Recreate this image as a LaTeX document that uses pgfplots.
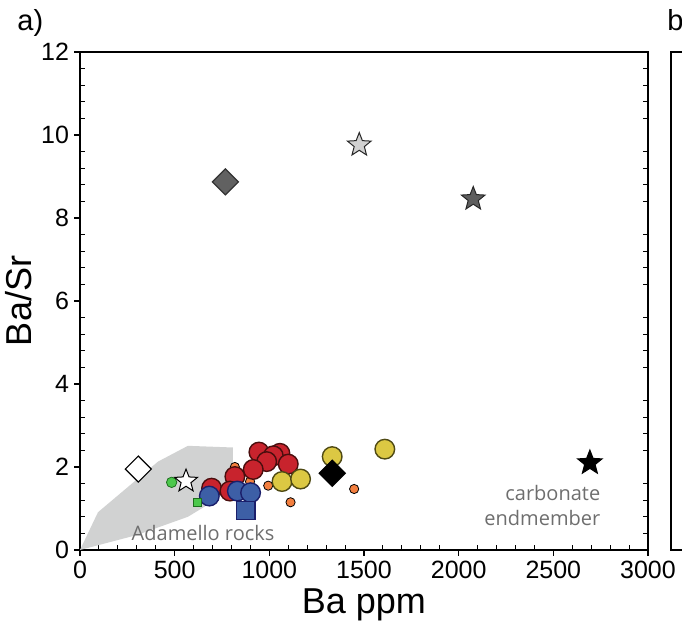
\documentclass[border=0pt]{standalone}
\usepackage{fontspec}
\setmainfont{Liberation Sans}
\newfontfamily\notefont{Open Sans}
\usepackage{pgfplots}
\pgfplotsset{compat=1.18}
\definecolor{redfill}{HTML}{C8232D}
\definecolor{redline}{HTML}{4A0E0E}
\definecolor{bluefill}{HTML}{3D5FA6}
\definecolor{blueline}{HTML}{1B1F6B}
\definecolor{yelfill}{HTML}{DCC843}
\definecolor{yelline}{HTML}{4F4A14}
\definecolor{orangefill}{HTML}{F37F3F}
\definecolor{greenfill}{HTML}{4CC84C}
\definecolor{greenline}{HTML}{1E6E1E}
\definecolor{adamgray}{HTML}{D1D2D2}
\definecolor{notegray}{HTML}{6E6E6E}

% filled five-pointed star
\pgfdeclareplotmark{fstar}{%
  \pgfpathmoveto{\pgfqpointpolar{90}{\pgfplotmarksize}}%
  \pgfpathlineto{\pgfqpointpolar{126}{0.43\pgfplotmarksize}}%
  \pgfpathlineto{\pgfqpointpolar{162}{\pgfplotmarksize}}%
  \pgfpathlineto{\pgfqpointpolar{198}{0.43\pgfplotmarksize}}%
  \pgfpathlineto{\pgfqpointpolar{234}{\pgfplotmarksize}}%
  \pgfpathlineto{\pgfqpointpolar{270}{0.43\pgfplotmarksize}}%
  \pgfpathlineto{\pgfqpointpolar{306}{\pgfplotmarksize}}%
  \pgfpathlineto{\pgfqpointpolar{342}{0.43\pgfplotmarksize}}%
  \pgfpathlineto{\pgfqpointpolar{18}{\pgfplotmarksize}}%
  \pgfpathlineto{\pgfqpointpolar{54}{0.43\pgfplotmarksize}}%
  \pgfpathclose
  \pgfusepathqfillstroke
}

\pgfplotsset{
  panel/.style={
    at={(40pt,35.5pt)}, anchor=south west,
    scale only axis, width=284pt, height=249pt,
    xmin=0, xmax=3000, ymin=0, ymax=12,
    axis line style={line width=0.55pt},
    tick style={line width=0.55pt, black},
  },
}

\begin{document}
\begin{tikzpicture}
\useasboundingbox (0,0) rectangle (341pt,310.5pt);
\clip (0,0) rectangle (341pt,310.5pt);

% data, frame and inward minor ticks
\begin{axis}[
    panel,
    xtick={0,500,...,3000}, ytick={0,2,...,12},
    minor x tick num=4, minor y tick num=4,
    xtick pos=bottom, ytick pos=both,
    tick align=inside,
    major tick length=0pt, minor tick length=2.5pt,
    xticklabels={}, yticklabels={},
    clip=false,
]
% Adamello rocks field
\addplot[fill=adamgray, draw=none] coordinates {
    (0,0) (95,0.91) (412,2.13) (570,2.51) (808,2.47)
    (808,1.6) (660,1.05) (570,0.80) (300,0.36) (0,0)
} -- cycle;

% orange small circles
\addplot[only marks, mark=*, mark size=2.3pt,
    mark options={draw=none, fill=orangefill}] coordinates {
    (818,2.0) (898,1.65) (994,1.55) (1112,1.15) (1448,1.47)
};

% red circles
\addplot[only marks, mark=*, mark size=4.9pt,
    mark options={draw=redline, fill=redfill, line width=0.7pt}] coordinates {
    (945,2.36) (1056,2.33) (1021,2.27) (986,2.13) (1100,2.07)
    (915,1.94) (818,1.77) (695,1.49) (792,1.42)
};

% blue circles
\addplot[only marks, mark=*, mark size=4.9pt,
    mark options={draw=blueline, fill=bluefill, line width=0.7pt}] coordinates {
    (683,1.30) (831,1.42) (901,1.38)
};

% blue square
\addplot[only marks, mark=square*, mark size=4.6pt,
    mark options={draw=blueline, fill=bluefill, line width=0.7pt}] coordinates {
    (876,0.95)
};

% yellow circles
\addplot[only marks, mark=*, mark size=4.9pt,
    mark options={draw=yelline, fill=yelfill, line width=0.7pt}] coordinates {
    (1067,1.65) (1165,1.71) (1332,2.25) (1610,2.43)
};

% green circle and square
\addplot[only marks, mark=*, mark size=2.6pt,
    mark options={draw=greenline, fill=greenfill, line width=0.4pt}] coordinates {
    (484,1.63)
};
\addplot[only marks, mark=square*, mark size=2.1pt,
    mark options={draw=greenline, fill=greenfill, line width=0.4pt}] coordinates {
    (621,1.15)
};

% diamonds
\addplot[only marks, mark=square*, mark size=4.6pt,
    mark options={rotate=45, draw=black, fill=white, line width=0.6pt}] coordinates {
    (308,1.95)
};
\addplot[only marks, mark=square*, mark size=4.6pt,
    mark options={rotate=45, draw=black, fill=black, line width=0.6pt}] coordinates {
    (1332,1.85)
};
\addplot[only marks, mark=square*, mark size=4.6pt,
    mark options={rotate=45, draw=black!80, fill=black!62, line width=0.6pt}] coordinates {
    (768,8.87)
};

% stars
\addplot[only marks, mark=fstar, mark size=6pt,
    mark options={draw=black, fill=white, line width=0.5pt}] coordinates {
    (560,1.66)
};
\addplot[only marks, mark=fstar, mark size=6.2pt,
    mark options={draw=black!85, fill=black!18, line width=0.5pt}] coordinates {
    (1475,9.76)
};
\addplot[only marks, mark=fstar, mark size=6.2pt,
    mark options={draw=black!85, fill=black!63, line width=0.5pt}] coordinates {
    (2077,8.46)
};
\addplot[only marks, mark=fstar, mark size=6.4pt,
    mark options={draw=black, fill=black, line width=0.5pt}] coordinates {
    (2693,2.10)
};

\node[font=\notefont\fontsize{10}{12.5}\selectfont, text=notegray]
    at (axis cs:650,0.40) {Adamello rocks};
\node[font=\notefont\fontsize{10}{12.5}\selectfont, text=notegray,
    align=right, anchor=east, inner sep=0pt]
    at (axis cs:2750,1.08) {carbonate\\endmember};
\end{axis}

% outward major ticks, tick labels and axis labels
\begin{axis}[
    panel,
    xtick={0,500,...,3000}, ytick={0,2,...,12},
    xtick pos=bottom, ytick pos=left,
    tick align=outside, major tick length=3pt,
    axis line style={draw=none},
    /pgf/number format/assume math mode=true,
    /pgf/number format/set thousands separator={},
    ticklabel style={font=\fontsize{12.5}{15}\selectfont},
    xticklabel style={yshift=1pt},
    yticklabel style={xshift=1pt},
    xlabel={Ba ppm}, ylabel={Ba/Sr},
    label style={font=\fontsize{18}{21}\selectfont},
    xlabel style={yshift=2pt},
    ylabel style={yshift=-2pt},
]
\end{axis}

% partial frame of panel b
\begin{axis}[
    at={(335.5pt,35.5pt)}, anchor=south west,
    scale only axis, width=284pt, height=249pt,
    xmin=0, xmax=1, ymin=0, ymax=1,
    xtick=\empty, ytick=\empty,
    axis line style={line width=0.55pt},
]
\end{axis}

\node[anchor=base west, inner sep=0pt, font=\fontsize{14.5}{17}\selectfont]
    at (8.5pt,295pt) {a)};
\node[anchor=base west, inner sep=0pt, font=\fontsize{14.5}{17}\selectfont]
    at (333.5pt,295pt) {b};
\end{tikzpicture}
\end{document}
